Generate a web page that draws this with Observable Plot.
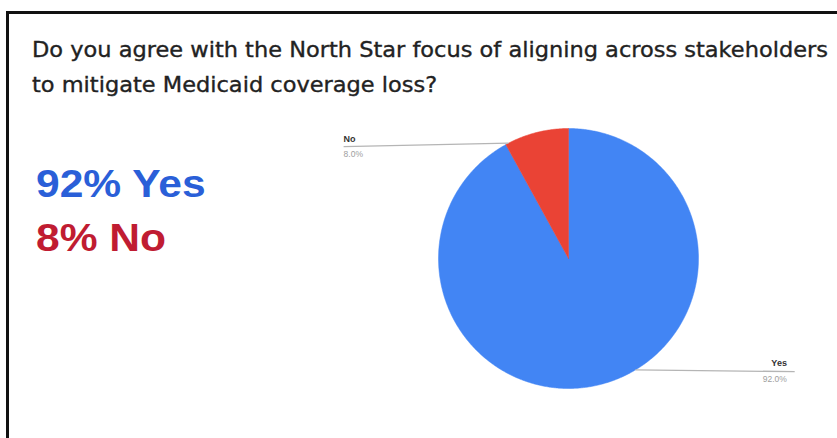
<!DOCTYPE html>
<html>
<head>
<meta charset="utf-8">
<script src="https://cdn.jsdelivr.net/npm/d3@7"></script>
<script src="https://cdn.jsdelivr.net/npm/@observablehq/plot@0.6"></script>
<style>
  html, body { margin: 0; padding: 0; background: #fff; }
  body { width: 837px; height: 438px; overflow: hidden; position: relative; }
  #frame { position: absolute; left: 6px; top: 11px; width: 840px; height: 440px;
           border-left: 3px solid #111; border-top: 3px solid #111; box-sizing: border-box; }
  #chart { position: absolute; left: 0; top: 0; }
  .tline { position: absolute; left: 32px; font-family: "DejaVu Sans", sans-serif;
           font-size: 21px; line-height: 24px; color: #222; white-space: nowrap;
           -webkit-text-stroke: 0.35px #222; transform-origin: 0 0; }
  .big { position: absolute; left: 36px; font-family: "Liberation Sans", Arial, sans-serif; font-weight: bold;
         font-size: 38px; white-space: nowrap; transform: scaleX(1.12); transform-origin: 0 0; }
  #yes { top: 163px; color: #2a5fd8; }
  #no  { top: 217px; color: #c01c32; }
</style>
</head>
<body>
<div id="frame"></div>
<div id="chart"></div>
<div id="t1" class="tline" style="top:38px"></div>
<div id="t2" class="tline" style="top:73px"></div>
<div id="yes" class="big"></div>
<div id="no" class="big"></div>
<script>
// ---- data ----
const titleLines = [
  "Do you agree with the North Star focus of aligning across stakeholders",
  "to mitigate Medicaid coverage loss?"
];
const categories = ["Yes", "No"];
const values = [92.0, 8.0];
const colors = ["#4285f4", "#ea4335"];
const pctLabels = ["92.0%", "8.0%"];
const summaryLabels = ["92% Yes", "8% No"];

// ---- layout (pixels) ----
const W = 837, H = 438;
const cx = 568, cy = 258, R = 130;
const titleWidth = 796;

const t1 = document.getElementById("t1"), t2 = document.getElementById("t2");
t1.textContent = titleLines[0];
t2.textContent = titleLines[1];
const sx = titleWidth / t1.getBoundingClientRect().width;
t1.style.transform = `scaleX(${sx})`;
t2.style.transform = `scaleX(${sx})`;
document.getElementById("yes").textContent = summaryLabels[0];
document.getElementById("no").textContent = summaryLabels[1];

// pie geometry (unit circle, y up, angle 0 at top, clockwise)
const arcs = d3.pie().sort(null).value(d => d)(values);
const slicePts = [];
arcs.forEach((a, i) => {
  const cat = categories[i];
  slicePts.push({cat, x: 0, y: 0});
  const steps = Math.max(2, Math.ceil((a.endAngle - a.startAngle) / (Math.PI / 360)));
  for (let k = 0; k <= steps; k++) {
    const t = a.startAngle + (a.endAngle - a.startAngle) * k / steps;
    slicePts.push({cat, x: Math.sin(t), y: Math.cos(t)});
  }
  slicePts.push({cat, x: 0, y: 0});
});

// leader-line style: outer end (unit coords), arc angle, label inset
const leaderStyle = {
  Yes: {ox: 1.74, oy: -0.87, ang: 149 * Math.PI / 180, anchor: "end", inset: -0.06},
  No:  {ox: -1.73, oy: 0.86, ang: -27.5 * Math.PI / 180, anchor: "start", inset: 0}
};
const leaders = categories.map((c, i) => {
  const s = leaderStyle[c];
  return {cat: c, pct: pctLabels[i], x1: Math.sin(s.ang), y1: Math.cos(s.ang), x2: s.ox, y2: s.oy,
          tx: s.ox + s.inset, anchor: s.anchor};
});
const startL = leaders.filter(d => d.anchor === "start");
const endL = leaders.filter(d => d.anchor === "end");
const nameStyle = {x: "tx", y: "y2", text: "cat", dy: -8, fontSize: 9, fontWeight: "bold", fill: "#333", fontFamily: "Liberation Sans, Arial"};
const pctStyle = {x: "tx", y: "y2", text: "pct", dy: 8, fontSize: 8.5, fill: "#9e9e9e", fontFamily: "Liberation Sans, Arial"};

const chart = Plot.plot({
  width: W, height: H, margin: 0,
  x: {domain: [-cx / R, (W - cx) / R], axis: null},
  y: {domain: [-(H - cy) / R, cy / R], axis: null},
  color: {domain: categories, range: colors},
  style: {background: "transparent", overflow: "visible"},
  marks: [
    Plot.line(slicePts, {x: "x", y: "y", z: "cat", fill: "cat", stroke: "cat", strokeWidth: 0.5, curve: "linear"}),
    Plot.link(leaders, {x1: "x1", y1: "y1", x2: "x2", y2: "y2", stroke: "#b5b5b5", strokeWidth: 1.3}),
    Plot.text(startL, {...nameStyle, textAnchor: "start"}),
    Plot.text(startL, {...pctStyle, textAnchor: "start"}),
    Plot.text(endL, {...nameStyle, textAnchor: "end"}),
    Plot.text(endL, {...pctStyle, textAnchor: "end"})
  ]
});
document.getElementById("chart").appendChild(chart);
</script>
</body>
</html>
